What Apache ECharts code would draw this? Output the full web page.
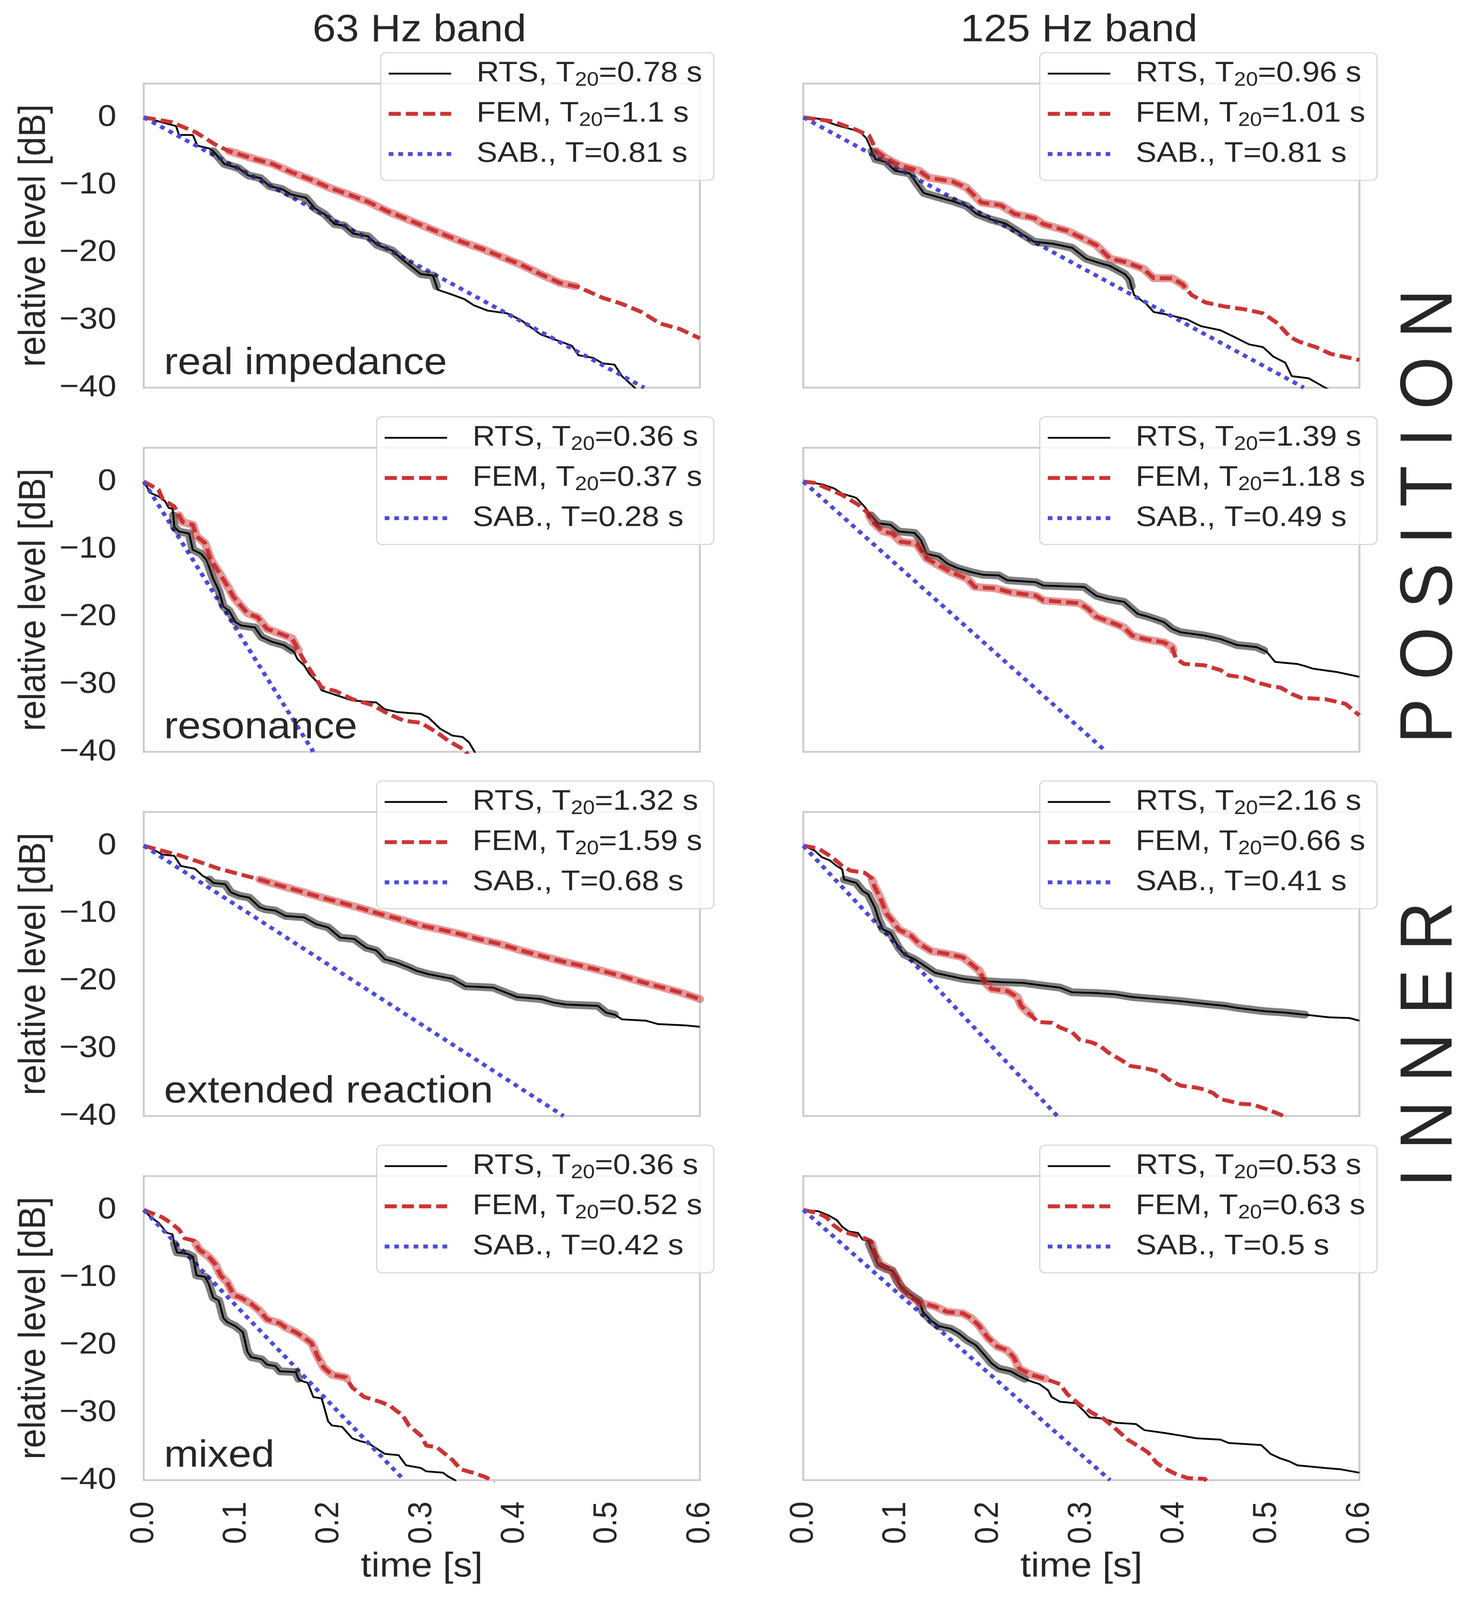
<!DOCTYPE html>
<html>
<head>
<meta charset="utf-8">
<script src="https://cdn.jsdelivr.net/npm/echarts@6/dist/echarts.min.js"></script>
<style>
html,body{margin:0;padding:0;background:#fff;overflow:hidden;}
#chart{position:absolute;left:0;top:0;width:3800px;height:4499px;transform-origin:0 0;}
</style>
</head>
<body>
<div id="chart"></div>
<script>
// ---------- DATA (time [s], relative level [dB]) ----------
const RTS_63_REAL = [[0,0],[0.035,-1.3],[0.038,-2.6],[0.053,-2.6],[0.058,-4.2],[0.071,-4.6],[0.075,-5.0],[0.087,-6.9],[0.102,-7.5],[0.113,-8.6],[0.126,-9.0],[0.136,-10.2],[0.149,-10.6],[0.159,-11.4],[0.175,-11.9],[0.185,-13.5],[0.195,-14.3],[0.206,-15.8],[0.216,-16.0],[0.226,-17.2],[0.242,-17.6],[0.252,-18.9],[0.268,-19.7],[0.278,-20.9],[0.288,-22.0],[0.299,-23.2],[0.312,-23.4],[0.316,-25.0],[0.317,-25.5],[0.330,-26.1],[0.346,-26.9],[0.356,-27.8],[0.371,-28.6],[0.392,-29.0],[0.407,-30.0],[0.418,-31.1],[0.428,-32.1],[0.444,-32.9],[0.462,-33.8],[0.469,-35.2],[0.485,-35.6],[0.495,-36.4],[0.508,-36.6],[0.516,-38.3],[0.529,-39.9],[0.535,-41]];
const FEM_63_REAL = [[0,0],[0.030,-0.7],[0.056,-2.2],[0.077,-4.0],[0.092,-5.0],[0.097,-5.2],[0.118,-6.1],[0.139,-6.9],[0.159,-8.1],[0.180,-9.2],[0.200,-10.4],[0.221,-11.4],[0.242,-12.5],[0.263,-13.9],[0.283,-15.0],[0.304,-16.2],[0.325,-17.4],[0.345,-18.5],[0.366,-19.5],[0.387,-20.7],[0.407,-21.8],[0.428,-23.2],[0.449,-24.5],[0.466,-25.0],[0.469,-25.1],[0.495,-26.7],[0.516,-27.6],[0.537,-28.8],[0.557,-30.5],[0.578,-31.3],[0.600,-32.7]];
const SAB_63_REAL = [[0,0],[0.540,-40]];

const RTS_125_REAL = [[0,0],[0.0165,-0.2],[0.037,-1.2],[0.061,-2.1],[0.068,-3.1],[0.073,-4.6],[0.074,-5.0],[0.078,-6.2],[0.089,-6.6],[0.099,-7.9],[0.115,-8.3],[0.122,-9.7],[0.130,-11.2],[0.145,-11.8],[0.161,-12.4],[0.176,-13.1],[0.187,-14.3],[0.202,-15.1],[0.218,-15.7],[0.233,-17.0],[0.249,-18.4],[0.269,-18.7],[0.290,-19.3],[0.305,-20.9],[0.316,-21.4],[0.331,-22.0],[0.347,-23.2],[0.352,-24.0],[0.354,-25.0],[0.357,-26.3],[0.370,-27.6],[0.378,-28.8],[0.393,-29.2],[0.414,-29.9],[0.429,-30.9],[0.450,-31.5],[0.465,-32.5],[0.481,-33.6],[0.496,-34.0],[0.507,-35.4],[0.520,-36.3],[0.527,-38.3],[0.545,-38.6],[0.563,-40.0],[0.570,-40.5]];
const FEM_125_REAL = [[0,0],[0.032,-0.6],[0.058,-1.9],[0.071,-2.7],[0.079,-5.0],[0.089,-6.0],[0.104,-7.1],[0.125,-7.9],[0.135,-8.9],[0.161,-9.5],[0.176,-10.4],[0.192,-12.6],[0.213,-13.0],[0.228,-14.3],[0.249,-14.9],[0.259,-15.8],[0.285,-16.8],[0.300,-17.8],[0.316,-18.9],[0.331,-20.9],[0.347,-21.4],[0.367,-22.4],[0.378,-23.8],[0.398,-23.8],[0.409,-24.7],[0.411,-25.0],[0.419,-26.3],[0.434,-27.4],[0.455,-28.0],[0.476,-28.4],[0.496,-29.0],[0.512,-30.5],[0.525,-32.5],[0.535,-33.2],[0.553,-34.0],[0.569,-35.0],[0.600,-35.9]];
const SAB_125_REAL = [[0,0],[0.540,-40]];

const RTS_63_RES = [[0,0],[0.0074,-1.7],[0.016,-2.2],[0.023,-2.9],[0.027,-3.9],[0.031,-4.0],[0.032,-5.0],[0.033,-6.7],[0.038,-7.4],[0.049,-7.7],[0.053,-10.1],[0.062,-10.7],[0.068,-11.7],[0.075,-14.4],[0.081,-16.1],[0.086,-18.5],[0.092,-19.1],[0.099,-20.8],[0.105,-21.3],[0.120,-21.6],[0.127,-23.0],[0.138,-23.7],[0.151,-24.2],[0.160,-25.0],[0.162,-25.2],[0.166,-26.3],[0.173,-27.2],[0.179,-28.5],[0.186,-29.5],[0.192,-30.9],[0.225,-32.4],[0.251,-32.7],[0.260,-33.7],[0.273,-34.1],[0.299,-34.4],[0.307,-34.9],[0.320,-36.6],[0.333,-37.6],[0.344,-37.8],[0.351,-38.6],[0.357,-40.0],[0.360,-41]];
const FEM_63_RES = [[0,0],[0.016,-1.2],[0.020,-2.5],[0.027,-3.2],[0.033,-3.7],[0.038,-5.0],[0.042,-6.0],[0.053,-6.4],[0.057,-8.1],[0.066,-9.1],[0.073,-11.7],[0.081,-13.4],[0.090,-15.4],[0.097,-17.1],[0.103,-18.1],[0.112,-19.5],[0.123,-20.1],[0.133,-21.8],[0.147,-22.5],[0.160,-23.2],[0.164,-24.2],[0.167,-25.0],[0.173,-26.5],[0.181,-28.2],[0.192,-30.5],[0.207,-31.0],[0.225,-32.2],[0.247,-33.1],[0.264,-34.4],[0.281,-35.4],[0.299,-35.7],[0.316,-37.1],[0.329,-38.4],[0.347,-39.8],[0.352,-41]];
const SAB_63_RES = [[0,0],[0.183,-40]];

const RTS_125_RES = [[0,0],[0.020,-0.4],[0.033,-1.0],[0.042,-1.8],[0.057,-2.4],[0.066,-3.7],[0.073,-5.0],[0.081,-6.2],[0.094,-6.4],[0.103,-7.4],[0.120,-7.6],[0.127,-8.7],[0.133,-10.7],[0.146,-11.1],[0.155,-12.1],[0.166,-12.8],[0.181,-13.4],[0.194,-13.8],[0.211,-13.9],[0.220,-14.6],[0.251,-14.9],[0.259,-15.4],[0.303,-15.6],[0.316,-16.9],[0.329,-17.4],[0.346,-17.8],[0.361,-19.6],[0.372,-20.0],[0.389,-20.8],[0.398,-21.8],[0.407,-22.3],[0.433,-22.8],[0.450,-23.3],[0.468,-24.2],[0.489,-24.5],[0.497,-25.0],[0.500,-25.2],[0.509,-26.7],[0.533,-27.0],[0.541,-27.3],[0.550,-27.7],[0.576,-28.2],[0.600,-28.9]];
const FEM_125_RES = [[0,0],[0.012,-0.2],[0.029,-1.2],[0.042,-2.0],[0.059,-3.4],[0.070,-4.7],[0.071,-5.0],[0.075,-6.0],[0.086,-7.4],[0.096,-7.7],[0.105,-8.9],[0.122,-9.2],[0.133,-11.4],[0.146,-12.4],[0.159,-13.4],[0.177,-14.4],[0.185,-15.6],[0.207,-15.8],[0.224,-16.4],[0.251,-16.9],[0.259,-17.6],[0.298,-18.0],[0.307,-18.8],[0.316,-20.0],[0.337,-21.1],[0.346,-21.6],[0.355,-22.8],[0.368,-23.3],[0.389,-23.8],[0.398,-24.5],[0.399,-25.0],[0.402,-26.2],[0.411,-27.0],[0.433,-27.2],[0.450,-27.9],[0.459,-28.7],[0.476,-29.0],[0.489,-29.7],[0.502,-30.2],[0.515,-30.5],[0.528,-31.5],[0.537,-32.0],[0.563,-32.2],[0.585,-32.9],[0.600,-34.6]];
const SAB_125_RES = [[0,0],[0.327,-40]];

const RTS_63_EXT = [[0,0],[0.012,-0.7],[0.020,-1.3],[0.033,-1.5],[0.040,-3.0],[0.055,-3.4],[0.064,-4.5],[0.070,-4.9],[0.071,-5.0],[0.075,-5.5],[0.088,-5.7],[0.094,-6.9],[0.103,-7.4],[0.114,-7.7],[0.125,-9.1],[0.131,-9.4],[0.142,-9.6],[0.153,-10.4],[0.173,-10.6],[0.186,-11.6],[0.199,-12.1],[0.212,-13.6],[0.227,-13.8],[0.240,-15.1],[0.251,-15.5],[0.260,-16.8],[0.273,-17.3],[0.286,-18.0],[0.294,-18.5],[0.307,-19.0],[0.318,-19.3],[0.333,-19.7],[0.347,-20.8],[0.377,-21.0],[0.390,-21.7],[0.403,-22.4],[0.429,-22.7],[0.442,-23.2],[0.455,-23.5],[0.490,-23.7],[0.499,-24.7],[0.508,-25.0],[0.516,-25.7],[0.542,-25.9],[0.555,-26.4],[0.586,-26.6],[0.600,-26.8]];
const FEM_63_EXT = [[0,0],[0.016,-0.6],[0.038,-1.4],[0.060,-2.4],[0.081,-3.4],[0.103,-4.2],[0.125,-5.0],[0.147,-5.9],[0.168,-6.7],[0.190,-7.6],[0.212,-8.4],[0.233,-9.2],[0.255,-10.1],[0.277,-10.9],[0.299,-11.8],[0.320,-12.4],[0.342,-13.1],[0.364,-13.9],[0.386,-14.6],[0.407,-15.5],[0.429,-16.3],[0.451,-17.1],[0.473,-17.8],[0.494,-18.5],[0.516,-19.3],[0.538,-20.2],[0.560,-21.0],[0.581,-21.8],[0.600,-22.7]];
const SAB_63_EXT = [[0,0],[0.453,-40]];

const RTS_125_EXT = [[0,0],[0.012,-0.7],[0.020,-1.7],[0.029,-2.2],[0.036,-3.0],[0.042,-3.5],[0.044,-5.0],[0.057,-5.5],[0.064,-6.7],[0.070,-7.2],[0.077,-9.1],[0.081,-10.8],[0.086,-12.4],[0.094,-12.9],[0.103,-15.1],[0.109,-16.1],[0.120,-16.8],[0.129,-17.6],[0.142,-18.8],[0.155,-19.2],[0.172,-19.7],[0.190,-20.0],[0.216,-20.2],[0.237,-20.3],[0.259,-20.7],[0.277,-21.0],[0.290,-21.7],[0.316,-21.8],[0.337,-22.0],[0.355,-22.4],[0.381,-22.7],[0.407,-23.0],[0.433,-23.4],[0.455,-23.7],[0.468,-24.0],[0.498,-24.5],[0.520,-24.7],[0.541,-25.0],[0.567,-25.4],[0.589,-25.5],[0.600,-25.9]];
const FEM_125_EXT = [[0,0],[0.016,-0.4],[0.031,-1.7],[0.042,-3.0],[0.051,-3.7],[0.066,-4.0],[0.073,-4.7],[0.074,-5.0],[0.077,-6.1],[0.083,-7.7],[0.090,-10.1],[0.096,-11.1],[0.103,-12.4],[0.116,-13.3],[0.125,-14.5],[0.138,-15.6],[0.155,-16.0],[0.172,-16.5],[0.181,-17.5],[0.190,-18.5],[0.196,-20.2],[0.203,-21.2],[0.220,-21.5],[0.231,-22.4],[0.235,-23.7],[0.244,-24.9],[0.245,-25.0],[0.253,-26.1],[0.268,-26.2],[0.277,-26.9],[0.290,-27.6],[0.298,-28.7],[0.311,-29.1],[0.320,-29.6],[0.329,-30.6],[0.344,-31.8],[0.353,-32.6],[0.368,-32.9],[0.383,-33.4],[0.394,-34.6],[0.407,-35.5],[0.424,-35.8],[0.433,-36.1],[0.442,-36.6],[0.450,-37.5],[0.472,-38.2],[0.485,-38.3],[0.502,-39.1],[0.515,-39.8],[0.520,-40.2]];
const SAB_125_EXT = [[0,0],[0.274,-40]];

const RTS_63_MIX = [[0,0],[0.0074,-1.05],[0.016,-1.9],[0.025,-3.4],[0.031,-3.6],[0.033,-5.0],[0.036,-6.3],[0.047,-6.5],[0.053,-6.9],[0.057,-9.7],[0.066,-9.9],[0.070,-10.9],[0.075,-13.0],[0.081,-13.4],[0.086,-16.0],[0.090,-16.6],[0.099,-17.2],[0.107,-18.1],[0.112,-21.0],[0.116,-21.8],[0.127,-22.1],[0.133,-22.9],[0.142,-23.1],[0.147,-23.9],[0.164,-24.0],[0.167,-25.0],[0.168,-25.2],[0.177,-25.6],[0.183,-27.7],[0.192,-27.9],[0.199,-31.3],[0.203,-31.9],[0.214,-32.1],[0.225,-33.8],[0.233,-34.2],[0.242,-34.5],[0.251,-35.3],[0.260,-36.1],[0.275,-36.3],[0.283,-37.8],[0.299,-38.2],[0.305,-38.7],[0.323,-38.9],[0.329,-39.5],[0.336,-40.0],[0.340,-41]];
const FEM_63_MIX = [[0,0],[0.020,-1.1],[0.029,-1.9],[0.038,-2.9],[0.044,-4.2],[0.055,-4.6],[0.056,-5.0],[0.060,-5.9],[0.070,-6.9],[0.077,-8.0],[0.083,-9.7],[0.090,-10.7],[0.097,-12.6],[0.105,-13.0],[0.116,-13.9],[0.125,-14.9],[0.133,-16.2],[0.147,-16.8],[0.153,-17.4],[0.164,-18.1],[0.173,-18.9],[0.181,-19.7],[0.188,-21.8],[0.194,-23.3],[0.203,-24.4],[0.218,-24.8],[0.219,-25.0],[0.225,-26.3],[0.238,-27.7],[0.255,-28.4],[0.266,-29.0],[0.273,-29.8],[0.279,-30.3],[0.286,-31.9],[0.299,-33.4],[0.305,-34.9],[0.316,-35.1],[0.325,-36.1],[0.333,-37.0],[0.342,-38.4],[0.355,-38.9],[0.368,-39.5],[0.375,-40.0],[0.380,-41]];
const SAB_63_MIX = [[0,0],[0.281,-40]];

const RTS_125_MIX = [[0,0],[0.016,-0.2],[0.027,-0.8],[0.036,-1.5],[0.042,-2.5],[0.049,-3.2],[0.059,-3.4],[0.064,-4.4],[0.070,-4.6],[0.071,-5.0],[0.075,-6.3],[0.081,-8.2],[0.090,-8.8],[0.096,-9.0],[0.101,-10.5],[0.107,-11.6],[0.116,-12.6],[0.125,-13.4],[0.129,-15.1],[0.138,-16.4],[0.146,-17.2],[0.159,-17.6],[0.168,-18.3],[0.177,-19.3],[0.186,-20.0],[0.195,-21.4],[0.203,-22.7],[0.211,-23.5],[0.224,-23.9],[0.233,-24.6],[0.239,-25.0],[0.242,-25.2],[0.255,-25.8],[0.264,-26.7],[0.268,-27.7],[0.277,-28.4],[0.294,-28.6],[0.303,-29.8],[0.309,-30.7],[0.324,-30.9],[0.337,-31.5],[0.359,-31.7],[0.368,-32.6],[0.389,-33.0],[0.407,-33.4],[0.424,-33.8],[0.450,-34.0],[0.459,-34.5],[0.494,-34.8],[0.498,-35.3],[0.504,-36.1],[0.515,-36.8],[0.524,-37.2],[0.533,-37.8],[0.563,-38.2],[0.580,-38.4],[0.600,-38.9]];
const FEM_125_MIX = [[0,0],[0.016,-0.5],[0.025,-1.1],[0.033,-2.3],[0.042,-3.2],[0.055,-3.7],[0.066,-4.2],[0.073,-4.6],[0.074,-5.0],[0.077,-6.5],[0.083,-8.0],[0.094,-8.8],[0.101,-10.1],[0.105,-11.3],[0.114,-12.6],[0.125,-13.7],[0.142,-14.3],[0.155,-15.1],[0.172,-15.3],[0.181,-16.0],[0.190,-17.2],[0.199,-18.9],[0.209,-20.2],[0.220,-20.8],[0.227,-21.8],[0.233,-23.5],[0.246,-24.4],[0.261,-25.0],[0.277,-25.8],[0.285,-27.3],[0.298,-28.8],[0.311,-30.0],[0.324,-30.9],[0.337,-32.4],[0.350,-34.0],[0.363,-35.1],[0.372,-35.9],[0.381,-37.4],[0.389,-38.2],[0.402,-39.1],[0.415,-39.7],[0.433,-39.8],[0.435,-40.1]];
const SAB_125_MIX = [[0,0],[0.331,-40]];

// labels
const BAND_TITLES = ['63 Hz band', '125 Hz band'];
const ROW_NOTES = ['real impedance', 'resonance', 'extended reaction', 'mixed'];
const T20_RTS = ['0.78', '0.96', '0.36', '1.39', '1.32', '2.16', '0.36', '0.53'];
const T20_FEM = ['1.1', '1.01', '0.37', '1.18', '1.59', '0.66', '0.52', '0.63'];
const T_SAB   = ['0.81', '0.81', '0.28', '0.49', '0.68', '0.41', '0.42', '0.5'];
const X_TICKS = [0, 0.1, 0.2, 0.3, 0.4, 0.5, 0.6];
const Y_TICKS = [-40, -30, -20, -10, 0];
const SIDE_TEXT = ['P O S I T I O N', 'I N N E R'];

const RTS_ALL = [RTS_63_REAL, RTS_125_REAL, RTS_63_RES, RTS_125_RES, RTS_63_EXT, RTS_125_EXT, RTS_63_MIX, RTS_125_MIX];
const FEM_ALL = [FEM_63_REAL, FEM_125_REAL, FEM_63_RES, FEM_125_RES, FEM_63_EXT, FEM_125_EXT, FEM_63_MIX, FEM_125_MIX];
const SAB_ALL = [SAB_63_REAL, SAB_125_REAL, SAB_63_RES, SAB_125_RES, SAB_63_EXT, SAB_125_EXT, SAB_63_MIX, SAB_125_MIX];

// ---------- LAYOUT / STYLE (designed at 3800 x 4499; the page is fitted to the viewport) ----------
const el = document.getElementById('chart');
const VW = window.innerWidth || 3800, VH = window.innerHeight || 4499;
el.style.transform = 'scale(' + (VW / 3800) + ',' + (VH / 4499) + ')';

const FONT = "'Liberation Sans', Arial, Helvetica, sans-serif";
const TXT = '#262626';
const RED = '#cc3333';
const BLUE = '#4b4bdb';
const COLX = [368, 2057];
const ROWY = [235, 1259, 2283, 3307];
const PW = 1424, PH = 855;

const grids = [], xAxes = [], yAxes = [], series = [], legends = [];
const LABELS = {};

function inRange(d) { return d.filter(p => p[1] <= -5 + 1e-9 && p[1] >= -25 - 1e-9); }

for (let i = 0; i < 8; i++) {
  const row = Math.floor(i / 2), col = i % 2;
  grids.push({ left: COLX[col], top: ROWY[row], width: PW, height: PH, show: true,
    borderColor: '#cccccc', borderWidth: 5, backgroundColor: '#ffffff' });
  xAxes.push({ gridIndex: i, type: 'value', min: 0, max: 0.6, interval: 0.1,
    axisLine: { show: false }, axisTick: { show: false }, splitLine: { show: false },
    axisLabel: { show: row === 3, rotate: 90, margin: 60, fontSize: 86, color: TXT, fontFamily: FONT,
      formatter: v => X_TICKS.some(t => Math.abs(t - v) < 1e-6) ? v.toFixed(1) : '' },
    name: row === 3 ? 'time [s]' : '', nameLocation: 'middle', nameGap: 196,
    nameTextStyle: { fontSize: 97, color: TXT, fontFamily: FONT } });
  yAxes.push({ gridIndex: i, type: 'value', min: -40, max: 5, interval: 10,
    axisLine: { show: false }, axisTick: { show: false }, splitLine: { show: false },
    axisLabel: { show: col === 0, margin: 70, fontSize: 86, color: TXT, fontFamily: FONT,
      formatter: v => Y_TICKS.indexOf(v) >= 0 ? (v < 0 ? '\u2212' + (-v) : String(v)) : '' },
    name: col === 0 ? 'relative level [dB]' : '', nameLocation: 'middle', nameGap: 231,
    nameTextStyle: { fontSize: 97, color: TXT, fontFamily: FONT } });

  const base = { type: 'line', xAxisIndex: i, yAxisIndex: i, symbol: 'none', showSymbol: false,
    animation: false, silent: true, clip: true };
  series.push(Object.assign({}, base, { name: 'rts' + i, data: RTS_ALL[i], z: 3,
    lineStyle: { color: '#000000', width: 5 }, itemStyle: { color: '#000000' } }));
  series.push(Object.assign({}, base, { name: 'fem' + i, data: FEM_ALL[i], z: 4,
    lineStyle: { color: RED, width: 11, type: [31, 13] }, itemStyle: { color: RED } }));
  series.push(Object.assign({}, base, { name: 'sab' + i, data: SAB_ALL[i], z: 5,
    lineStyle: { color: BLUE, width: 11, type: [12, 12.7] }, itemStyle: { color: BLUE } }));
  series.push(Object.assign({}, base, { name: 'hlr' + i, data: inRange(RTS_ALL[i]), z: 6,
    lineStyle: { color: 'rgba(0,0,0,0.5)', width: 22, join: 'round', cap: 'round' } }));
  series.push(Object.assign({}, base, { name: 'hlf' + i, data: inRange(FEM_ALL[i]), z: 7,
    lineStyle: { color: 'rgba(204,51,51,0.5)', width: 22, join: 'round', cap: 'round' } }));

  LABELS['rts' + i] = '{g| }{m|RTS, T}{s|20}{m|=' + T20_RTS[i] + ' s}';
  LABELS['fem' + i] = '{g| }{m|FEM, T}{s|20}{m|=' + T20_FEM[i] + ' s}';
  LABELS['sab' + i] = '{g| }{m|SAB., T=' + T_SAB[i] + ' s}';

  const hide = { opacity: 0 };
  legends.push({
    orient: 'vertical', right: col === 0 ? 1972 : 274, top: ROWY[row] - 87,
    itemWidth: 160, itemHeight: 20, itemGap: 27, padding: [19, 30, 34, 15],
    backgroundColor: 'rgba(255,255,255,0.8)', borderColor: '#d6d6d6', borderWidth: 3, borderRadius: 14,
    selectedMode: false, z: 20,
    data: [
      { name: 'rts' + i, lineStyle: { width: 5 }, itemStyle: hide },
      { name: 'fem' + i, lineStyle: { width: 11 }, itemStyle: hide },
      { name: 'sab' + i, lineStyle: { width: 11 }, itemStyle: hide }
    ],
    formatter: n => LABELS[n],
    textStyle: { color: TXT, fontFamily: FONT, fontSize: 80,
      rich: {
        g: { width: 60, fontSize: 80, lineHeight: 92 },
        m: { fontSize: 80, lineHeight: 92, color: TXT, fontFamily: FONT },
        s: { fontSize: 55, lineHeight: 92, color: TXT, fontFamily: FONT, verticalAlign: 'bottom' }
      } }
  });
}

const graphics = [];
for (let c = 0; c < 2; c++) {
  graphics.push({ type: 'text', x: COLX[c] + PW / 2 - 6, y: 86, silent: true,
    style: { text: BAND_TITLES[c], font: '107px ' + FONT, fill: TXT, align: 'center', verticalAlign: 'middle',
      textAlign: 'center', textVerticalAlign: 'middle' } });
}
for (let r = 0; r < 4; r++) {
  graphics.push({ type: 'text', x: COLX[0] + 52, y: ROWY[r] + PH - 14, silent: true, z: 10,
    style: { text: ROW_NOTES[r], font: '106px ' + FONT, fill: TXT, align: 'left', verticalAlign: 'bottom',
      textAlign: 'left', textVerticalAlign: 'bottom' } });
}
graphics.push({ type: 'text', x: 3665, y: 1452, rotation: Math.PI / 2, silent: true,
  style: { text: SIDE_TEXT[0], font: '190px ' + FONT, fill: TXT, align: 'center', verticalAlign: 'middle',
    textAlign: 'center', textVerticalAlign: 'middle' } });
graphics.push({ type: 'text', x: 3665, y: 2937, rotation: Math.PI / 2, silent: true,
  style: { text: SIDE_TEXT[1], font: '190px ' + FONT, fill: TXT, align: 'center', verticalAlign: 'middle',
    textAlign: 'center', textVerticalAlign: 'middle' } });

const chart = echarts.init(el, null, { renderer: 'canvas', width: 3800, height: 4499 });
chart.setOption({
  animation: false,
  backgroundColor: '#ffffff',
  grid: grids, xAxis: xAxes, yAxis: yAxes, series: series, legend: legends,
  graphic: graphics
});
</script>
</body>
</html>
